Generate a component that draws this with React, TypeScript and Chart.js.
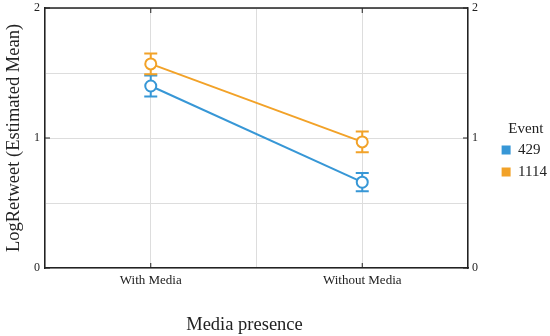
import React, { useEffect, useRef } from "react";
import { Chart, registerables } from "chart.js";

Chart.register(...registerables);

const categories = ["With Media", "Without Media"];
const eventLabels = ["429", "1114"];
const means429 = [1.4, 0.66];
const err429 = [0.08, 0.07];
const means1114 = [1.57, 0.97];
const err1114 = [0.08, 0.08];
const yTicks = [0, 1, 2];

const BLUE = "#3797d6";
const ORANGE = "#f2a228";
const FONT = "'Liberation Serif', 'Times New Roman', serif";

const errorBarPlugin = {
  id: "errorBars",
  beforeDatasetsDraw(chart: any) {
    const ctx = chart.ctx;
    const yScale = chart.scales.y;
    const xScale = chart.scales.x;
    chart.data.datasets.forEach((ds: any) => {
      const errs: number[] = ds.errors || [];
      ctx.save();
      ctx.strokeStyle = ds.borderColor;
      ctx.lineWidth = 2;
      ds.data.forEach((pt: any, i: number) => {
        const x = xScale.getPixelForValue(pt.x);
        const yTop = yScale.getPixelForValue(pt.y + errs[i]);
        const yBot = yScale.getPixelForValue(pt.y - errs[i]);
        ctx.beginPath();
        ctx.moveTo(x, yTop);
        ctx.lineTo(x, yBot);
        ctx.moveTo(x - 6.5, yTop);
        ctx.lineTo(x + 6.5, yTop);
        ctx.moveTo(x - 6.5, yBot);
        ctx.lineTo(x + 6.5, yBot);
        ctx.stroke();
      });
      ctx.restore();
    });
  },
};

const layoutTweakPlugin = {
  id: "layoutTweak",
  afterLayout(chart: any) {
    const lg = chart.legend;
    if (lg) {
      lg.left += 7;
      lg.right += 7;
      lg.top -= 18;
      lg.bottom -= 18;
    }
    const xs = chart.scales.x;
    if (xs && !xs.__shifted) {
      const orig = xs.drawTitle.bind(xs);
      xs.drawTitle = () => {
        xs.ctx.save();
        xs.ctx.translate(-12, 0);
        orig();
        xs.ctx.restore();
      };
      xs.__shifted = true;
    }
  },
};

const framePlugin = {
  id: "frame",
  afterDraw(chart: any) {
    const { ctx, chartArea } = chart;
    const xScale = chart.scales.x;
    const yScale = chart.scales.y;
    ctx.save();
    ctx.strokeStyle = "#222";
    ctx.lineWidth = 1.5;
    ctx.beginPath();
    ctx.moveTo(chartArea.left, chartArea.top);
    ctx.lineTo(chartArea.right, chartArea.top);
    ctx.stroke();
    ctx.lineWidth = 1;
    ctx.beginPath();
    categories.forEach((_, i) => {
      const x = xScale.getPixelForValue(i);
      ctx.moveTo(x, chartArea.top);
      ctx.lineTo(x, chartArea.top + 5);
      ctx.moveTo(x, chartArea.bottom);
      ctx.lineTo(x, chartArea.bottom - 5);
    });
    yTicks.forEach((v) => {
      const y = yScale.getPixelForValue(v);
      ctx.moveTo(chartArea.left, y);
      ctx.lineTo(chartArea.left + 5, y);
      ctx.moveTo(chartArea.right, y);
      ctx.lineTo(chartArea.right - 5, y);
    });
    ctx.stroke();
    ctx.restore();
  },
};

const noPad = (s: any) => {
  s.paddingTop = 0;
  s.paddingBottom = 0;
};

export default function App() {
  const ref = useRef<HTMLCanvasElement>(null);
  useEffect(() => {
    if (!ref.current) return;
    const makeData = (means: number[]) =>
      means.map((v, i) => ({ x: i, y: v }));
    const chart = new Chart(ref.current, {
      type: "line",
      data: {
        datasets: [
          {
            label: eventLabels[0],
            data: makeData(means429),
            errors: err429,
            borderColor: BLUE,
            backgroundColor: BLUE,
            pointBackgroundColor: "#ffffff",
            pointBorderColor: BLUE,
            pointRadius: 5.5,
            pointBorderWidth: 2,
            borderWidth: 2,
          } as any,
          {
            label: eventLabels[1],
            data: makeData(means1114),
            errors: err1114,
            borderColor: ORANGE,
            backgroundColor: ORANGE,
            pointBackgroundColor: "#ffffff",
            pointBorderColor: ORANGE,
            pointRadius: 5.5,
            pointBorderWidth: 2,
            borderWidth: 2,
          } as any,
        ],
      },
      options: {
        animation: false,
        responsive: true,
        maintainAspectRatio: false,
        layout: { padding: { top: 8, right: 0, bottom: 0, left: 0 } },
        plugins: {
          tooltip: { enabled: false },
          legend: {
            position: "right",
            align: "center",
            title: {
              display: true,
              text: "Event",
              color: "#222",
              font: { family: FONT, size: 15 },
              padding: { top: 0, bottom: -4 },
            },
            labels: {
              color: "#222",
              font: { family: FONT, size: 15 },
              boxWidth: 9,
              boxHeight: 9,
              padding: 7,
              generateLabels: (chart: any) =>
                chart.data.datasets.map((ds: any, i: number) => ({
                  text: ds.label,
                  fillStyle: ds.borderColor,
                  strokeStyle: ds.borderColor,
                  lineWidth: 0,
                  datasetIndex: i,
                  hidden: false,
                })),
            },
          },
        },
        scales: {
          x: {
            type: "linear",
            min: -0.5,
            max: 1.5,
            border: { color: "#222", width: 1.5 },
            grid: { color: "#dddddd", lineWidth: 1, drawTicks: false },
            ticks: {
              stepSize: 0.5,
              autoSkip: false,
              maxRotation: 0,
              padding: 5,
              color: "#222",
              font: { family: FONT, size: 13 },
              callback: (v: any) =>
                Number.isInteger(v) && categories[v] !== undefined ? categories[v] : "",
            },
            title: {
              display: true,
              text: "Media presence",
              color: "#222",
              font: { family: FONT, size: 18.5 },
              padding: { top: 0, bottom: 0 },
            },
            afterFit: (s: any) => {
              s.height = 68;
            },
          },
          y: {
            position: "left",
            min: 0,
            max: 2,
            border: { color: "#222", width: 1.5 },
            grid: { color: "#dddddd", lineWidth: 1, drawTicks: false },
            ticks: {
              stepSize: 0.5,
              padding: 5,
              color: "#222",
              font: { family: FONT, size: 12 },
              callback: (v: any) => (yTicks.includes(v) ? String(v) : ""),
            },
            title: {
              display: true,
              text: "LogRetweet (Estimated Mean)",
              color: "#222",
              font: { family: FONT, size: 18.5 },
              padding: { top: 3, bottom: 0 },
            },
            afterFit: (s: any) => {
              s.width = 45;
              noPad(s);
            },
          },
          y2: {
            position: "right",
            min: 0,
            max: 2,
            border: { color: "#222", width: 1.5 },
            grid: { display: false, drawTicks: false },
            ticks: {
              stepSize: 1,
              padding: 4,
              color: "#222",
              font: { family: FONT, size: 12 },
              callback: (v: any) => String(v),
            },
            afterFit: (s: any) => {
              const lw = s.chart.legend ? s.chart.legend.width : 60;
              s.width = Math.max(10, 550 - 468 - lw);
              noPad(s);
            },
          },
        },
      } as any,
      plugins: [errorBarPlugin, layoutTweakPlugin, framePlugin],
    });
    return () => chart.destroy();
  }, []);
  return (
    <div style={{ position: "absolute", left: 0, top: 0, width: 550, height: 336 }}>
      <canvas ref={ref} />
    </div>
  );
}
